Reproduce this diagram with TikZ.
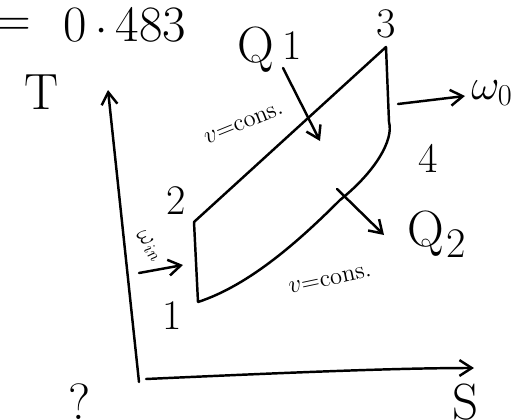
\documentclass[tikz,border=0pt]{standalone}
\usetikzlibrary{arrows.meta}
\begin{document}
\begin{tikzpicture}[x=0.02cm,y=-0.02cm,
  line width=1.4pt, line cap=round, line join=round,
  lbl/.style={inner sep=0pt, font=\fontsize{24}{26}\selectfont},
  big/.style={inner sep=0pt, font=\fontsize{29}{31}\selectfont},
  small/.style={inner sep=0pt, font=\fontsize{14}{15}\selectfont},
  barb/.style={-{Straight Barb[length=7pt,width=9pt]}}]
\useasboundingbox (0,0) rectangle (520,419);
% header
\node[big] (eq) at (13,27) {=};
\node[big, anchor=west] (val) at (62,25) {0\,$\cdot$\,483};
% axes
\coordinate (o) at (139,382);
\coordinate (tend) at (108,90);
\coordinate (s0) at (146,379);
\coordinate (send) at (474,368);
\draw[barb] (o) -- (tend);
\draw[barb] (s0) .. controls (300,372) and (400,368) .. (send);
\node[big] (T) at (42,92) {T};
\node[big] (S) at (466,402) {S};
\node[big] (P) at (80,402) {?};
% cycle
\coordinate (p1) at (198,302);
\coordinate (p2) at (194,222);
\coordinate (p3) at (386,47);
\coordinate (p4) at (392,135);
\draw (p1) -- (p2) -- (p3) -- (389,122) .. controls (394,140) and (375,172) .. (340,200)
      .. controls (300,240) and (250,285) .. (p1);
\node[lbl] (n1) at (172,316) {1};
\node[lbl] (n2) at (176,201) {2};
\node[lbl] (n3) at (386,24) {3};
\node[lbl] (n4) at (428,158) {4};
% heat in
\node[big] (q1) at (256,50) {Q};
\node[lbl] (q1i) at (292,46) {1};
\coordinate (q1a) at (283,68);
\coordinate (q1b) at (320,141);
\draw[barb] (q1a) -- (q1b);
\node[small, rotate=22] (vc1) at (244,124) {$v$=cons.};
% heat out
\coordinate (q2a) at (337,189);
\coordinate (q2b) at (384,235);
\draw[barb] (q2a) -- (q2b);
\node[big] (q2) at (426,234) {Q};
\node[lbl] (q2i) at (456,244) {2};
\node[small, rotate=12] (vc2) at (330,280) {$v$=cons.};
% work
\coordinate (woa) at (398,104);
\coordinate (wob) at (465,96);
\draw[barb] (woa) -- (wob);
\node[lbl] (wo) at (492,93) {$\omega_0$};
\coordinate (wia) at (139,273);
\coordinate (wib) at (183,265);
\draw[barb] (wia) -- (wib);
\node[small, rotate=-50] (wi) at (149,246) {$\omega_{\mathit{in}}$};
\end{tikzpicture}
\end{document}
